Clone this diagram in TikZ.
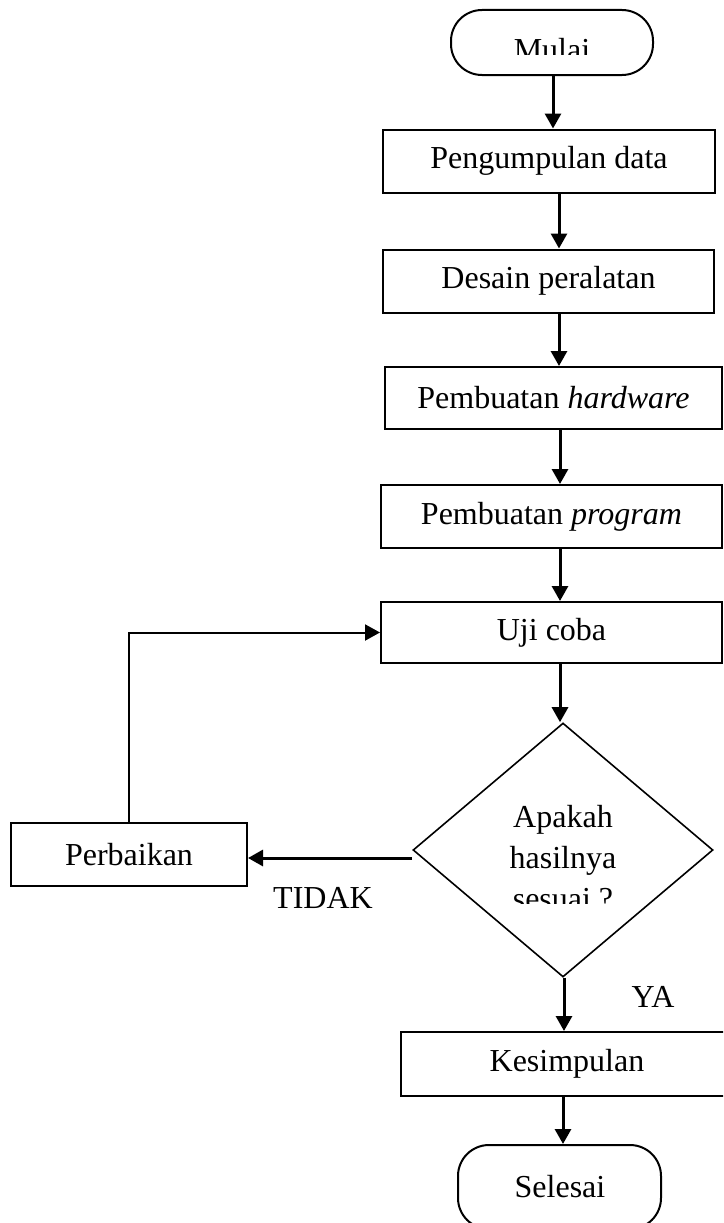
\documentclass[tikz,border=0pt]{standalone}
\usepackage{fontspec}
\setmainfont{Liberation Serif}
\usetikzlibrary{arrows.meta,shapes.geometric}

\begin{document}
\begin{tikzpicture}[x=1pt,y=-1pt,
      mybox/.style={
         rectangle,
         draw=black,
         line width=2pt,
         inner sep=0pt,
         minimum height=63pt,
         font=\fontsize{32}{38}\selectfont},
      myterminal/.style={
         rectangle,
         rounded corners=31pt,
         draw=black,
         line width=2pt},
      mydiamond/.style={
         diamond,
         draw=black,
         line width=1.6pt,
         inner sep=0pt,
         minimum width=300pt,
         minimum height=254pt},
      mytext/.style={inner sep=0pt,font=\fontsize{32}{41}\selectfont},
      myarrow/.style={-{Triangle[length=15pt,width=16pt]},line width=3pt}
      ]
      \clip (0,0) rectangle (723,1223);

      \node[myterminal, minimum width=202pt, minimum height=65pt] (mulai) at (552,42.5) {};
      \node[mybox, minimum width=332pt] (data) at (549,161) {Pengumpulan data};
      \node[mybox, minimum width=331pt] (desain) at (548.5,281) {Desain peralatan};
      \node[mybox, minimum width=337pt, minimum height=62pt] (hardware) at (553.5,398) {Pembuatan \textit{hardware}};
      \node[mybox, minimum width=341pt] (program) at (551.5,516.5) {Pembuatan \textit{program}};
      \node[mybox, minimum width=341pt, minimum height=61pt] (uji) at (551.5,632.5) {Uji coba};
      \node[mydiamond] (cek) at (563,850) {};
      \node[mybox, minimum width=236pt] (perbaikan) at (129,854.5) {Perbaikan};
      \node[mybox, minimum width=332pt, minimum height=64pt] (kesimpulan) at (567,1064) {Kesimpulan};
      \node[myterminal, minimum width=203pt, minimum height=84pt] (selesai) at (559.5,1187) {};

      \node[mytext, anchor=base] (selesaitxt) at (560,1197) {Selesai};
      \node[mytext, anchor=base] (tidak) at (323,908) {TIDAK};
      \node[mytext, anchor=base] (ya) at (653,1007) {YA};

      % text cut off like in the original
      \begin{scope}
        \clip (440,10) rectangle (665,55);
        \node[mytext, anchor=base] (mulaitxt) at (552,61) {Mulai};
      \end{scope}
      \begin{scope}
        \clip (420,780) rectangle (710,903);
        \node[mytext, align=center, anchor=north] (cektxt) at (563,805) {Apakah\\hasilnya\\sesuai ?};
      \end{scope}

    \foreach \i/\j/\dx in {% start node/end node/x offset
      mulai/data/1,
      data/desain/10,
      desain/hardware/10.5,
      hardware/program/6.5,
      program/uji/8.5,
      uji/cek/8.5,
      cek/kesimpulan/1,
      kesimpulan/selesai/-4}
       \draw[myarrow] ([xshift=\dx pt]\i.south) -- ([xshift=\dx pt]\i.south |- \j.north);

\draw[myarrow] ([yshift=-8pt]cek.west) -- ([yshift=-8pt]cek.west -| perbaikan.east);
\draw[myarrow, line width=2pt] (perbaikan.north) |- (uji.west);
    \end{tikzpicture}
\end{document}
